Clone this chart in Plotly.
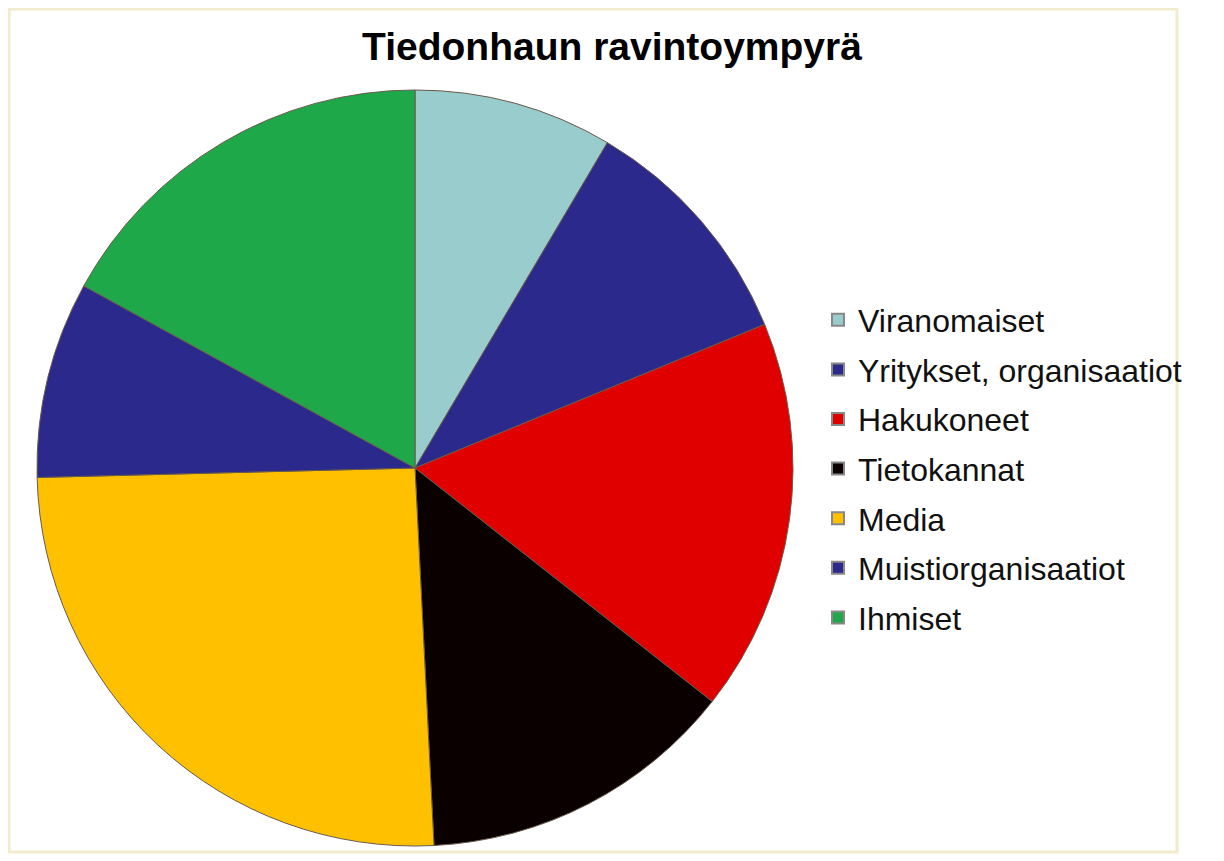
import plotly.graph_objects as go

title_text = "Tiedonhaun ravintoympyrä"
categories = ["Viranomaiset", "Yritykset, organisaatiot", "Hakukoneet", "Tietokannat",
              "Media", "Muistiorganisaatiot", "Ihmiset"]
values = [8.5, 10.3, 16.8, 13.6, 25.4, 8.4, 17.0]
colors = ["#99CCCC", "#2B2A8C", "#E00000", "#0A0000", "#FFC000", "#2B2A8C", "#1EA84A"]

OFF = 8  # browser default body margin
W, H = 1224 - OFF, 861 - OFF
cx, cy, r = 415 - OFF, 468 - OFF, 378

fig = go.Figure()
fig.add_trace(go.Pie(
    labels=categories, values=values, sort=False, direction="clockwise", rotation=0,
    marker=dict(colors=colors, line=dict(color="#6a5a4a", width=1)),
    textinfo="none", hoverinfo="label+percent", showlegend=False,
    domain=dict(x=[(cx - r) / W, (cx + r) / W], y=[1 - (cy + r) / H, 1 - (cy - r) / H]),
))

for i, (cat, col) in enumerate(zip(categories, colors)):
    fig.add_trace(go.Scatter(
        x=[None], y=[None], mode="markers", name=cat, legendgroup=f"g{i}",
        marker=dict(symbol="square", size=16, color=col, line=dict(color="#888888", width=1)),
    ))

fig.update_layout(
    width=W, height=H,
    margin=dict(l=0, r=0, t=0, b=0),
    paper_bgcolor="white", plot_bgcolor="white",
    font=dict(family="Liberation Sans, Arial, sans-serif", color="#111111"),
    title=dict(text=f"<b>{title_text}</b>", x=(612 - OFF) / W, xanchor="center",
               y=1 - (46 - OFF) / H, yanchor="middle",
               font=dict(size=39, color="#000000")),
    xaxis=dict(visible=False), yaxis=dict(visible=False),
    legend=dict(x=(818 - OFF) / W, xanchor="left", y=1 - (469 - OFF) / H, yanchor="middle",
                font=dict(size=32, color="#111111"), tracegroupgap=5,
                bgcolor="rgba(0,0,0,0)", itemsizing="constant"),
    shapes=[dict(type="rect", xref="paper", yref="paper", x0=1 / W, x1=(1177 - OFF) / W,
                 y0=1 - (852 - OFF) / H, y1=1 - 1 / H, line=dict(color="#F2ECCC", width=3),
                 layer="below")],
)

fig.write_html("out.html")
